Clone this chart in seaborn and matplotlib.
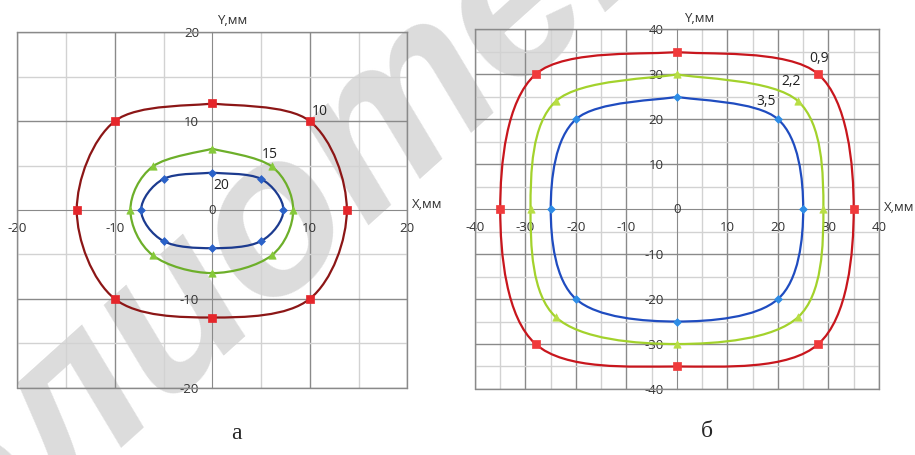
import numpy as np
import pandas as pd
import matplotlib
matplotlib.use("Agg")
import matplotlib.pyplot as plt
from matplotlib.path import Path
from matplotlib.patches import PathPatch
import seaborn as sns

# ---- data, each loop starts and ends at the top point
# panel a
a_red_x = [0, 10, 13.8, 10, 0, -10, -13.9, -10, 0]
a_red_y = [12, 10, 0, -10, -12.1, -10, 0, 10, 12]
a_green_x = [0, 6.1, 8.3, 6.1, 0, -6.1, -8.4, -6.1, 0]
a_green_y = [6.9, 4.9, 0, -5.1, -7.1, -5.1, 0, 4.9, 6.9]
a_blue_x = [0, 5, 7.3, 5, 0, -5, -7.3, -5, 0]
a_blue_y = [4.2, 3.5, 0, -3.5, -4.3, -3.5, 0, 3.5, 4.2]
a_labels = ["10", "15", "20"]

# panel b
b_red_x = [0, 28, 35, 28, 0, -28, -35, -28, 0]
b_red_y = [35, 30, 0, -30, -35, -30, 0, 30, 35]
b_green_x = [0, 24, 29, 24, 0, -24, -29, -24, 0]
b_green_y = [30, 24, 0, -24, -30, -24, 0, 24, 30]
b_blue_x = [0, 20, 25, 20, 0, -20, -25, -20, 0]
b_blue_y = [25, 20, 0, -20, -25, -20, 0, 20, 25]
b_labels = ["0,9", "2,2", "3,5"]

sns.set_style("white")
plt.rcParams["font.family"] = ["Open Sans", "DejaVu Sans"]
plt.rcParams["axes.unicode_minus"] = False

TXT = "#333333"
MAJ = "#8a8a8a"
MIN = "#d2d2d2"


def smooth_path(xs, ys):
    # excel-like smoothed line: cubic bezier through the points
    pts = np.column_stack([xs, ys]).astype(float)
    ext = np.vstack([pts[0], pts, pts[-1]])
    verts = [pts[0]]
    codes = [Path.MOVETO]
    for i in range(len(pts) - 1):
        p0, p1, p2, p3 = ext[i], ext[i + 1], ext[i + 2], ext[i + 3]
        verts += [p1 + (p2 - p0) / 6, p2 - (p3 - p1) / 6, p2]
        codes += [Path.CURVE4] * 3
    return Path(verts, codes)


def draw_series(ax, xs, ys, line_c, mark_c, marker, ms):
    ax.add_patch(PathPatch(smooth_path(xs, ys), fill=False, edgecolor=line_c,
                           lw=1.6, zorder=3))
    df = pd.DataFrame({"x": xs[:-1], "y": ys[:-1]})
    sns.scatterplot(data=df, x="x", y="y", ax=ax, color=mark_c, marker=marker,
                    s=ms, edgecolor=mark_c, linewidth=0.5, zorder=4, legend=False)
    ax.set_xlabel("")
    ax.set_ylabel("")


def setup_axes(ax, lim, major, minor):
    ax.set_facecolor("none")
    ax.set_xlim(-lim, lim)
    ax.set_ylim(-lim, lim)
    ax.set_xticks(major)
    ax.set_yticks(major)
    ax.set_xticks(minor, minor=True)
    ax.set_yticks(minor, minor=True)
    ax.grid(which="major", color=MAJ, lw=1.0)
    ax.grid(which="minor", color=MIN, lw=1.0)
    for s in ["top", "right"]:
        ax.spines[s].set_color(MAJ)
        ax.spines[s].set_linewidth(1.0)
    ax.spines["left"].set_position(("data", 0))
    ax.spines["bottom"].set_position(("data", 0))
    ax.spines["left"].set_color(MAJ)
    ax.spines["bottom"].set_color(MAJ)
    ax.axhline(-lim, color=MAJ, lw=1.0, clip_on=False, zorder=1)
    ax.axvline(-lim, color=MAJ, lw=1.0, clip_on=False, zorder=1)
    ax.tick_params(axis="x", which="both", length=0, pad=8.5, labelsize=9.5,
                   labelcolor=TXT)
    ax.tick_params(axis="y", which="both", length=0, pad=9.5, labelsize=9.5,
                   labelcolor=TXT)
    ax.text(0, 0, "0", ha="center", va="center", fontsize=9.5, color=TXT, zorder=5)


fig = plt.figure(figsize=(9.15, 4.55), dpi=100)
fig.patch.set_facecolor("white")

# faint watermark behind everything
fig.text(0.25, 0.42, "библиотека", rotation=42, fontsize=160, color="#dcdcdc",
         style="italic", weight="bold", ha="center", va="center", zorder=-1,
         family=["Liberation Sans", "DejaVu Sans"])

ax1 = fig.add_axes([0.0189, 0.1479, 0.4262, 0.7811])
ax2 = fig.add_axes([0.5191, 0.1451, 0.4415, 0.7905])

# ---- panel a
setup_axes(ax1, 20, [-20, -10, 10, 20], [-15, -5, 5, 15])
draw_series(ax1, a_red_x, a_red_y, "#8c1616", "#e5262b", "s", 30)
draw_series(ax1, a_green_x, a_green_y, "#6daf2a", "#86c93a", "^", 28)
draw_series(ax1, a_blue_x, a_blue_y, "#1c3b8f", "#2b62c8", "D", 16)
for (tx, ty), lbl in zip([(11.0, 11.1), (5.9, 6.3), (0.9, 2.8)], a_labels):
    ax1.text(tx, ty, lbl, ha="center", va="center", fontsize=10, color="#222222",
             zorder=5)
ax1.text(2.0, 21.3, "Y,мм", ha="center", va="center", fontsize=9.5, color=TXT,
         clip_on=False)
ax1.text(20.5, 0.6, "X,мм", ha="left", va="center", fontsize=9.5, color=TXT,
         clip_on=False)

# ---- panel b
setup_axes(ax2, 40, [-40, -30, -20, -10, 10, 20, 30, 40],
           [-35, -25, -15, -5, 5, 15, 25, 35])
draw_series(ax2, b_red_x, b_red_y, "#c8161d", "#f03a3b", "s", 30)
draw_series(ax2, b_green_x, b_green_y, "#a3d22c", "#b8de45", "^", 28)
draw_series(ax2, b_blue_x, b_blue_y, "#1f4cc0", "#2e8de6", "D", 16)
for (tx, ty), lbl in zip([(28.1, 33.5), (22.6, 28.5), (17.7, 23.9)], b_labels):
    ax2.text(tx, ty, lbl, ha="center", va="center", fontsize=10, color="#222222",
             zorder=5)
ax2.text(4.3, 42.5, "Y,мм", ha="center", va="center", fontsize=9.5, color=TXT,
         clip_on=False)
ax2.text(41.0, 0.4, "X,мм", ha="left", va="center", fontsize=9.5, color=TXT,
         clip_on=False)

# captions
fig.text(0.258, 0.048, "а", ha="center", va="center", fontsize=17,
         family=["Liberation Serif", "DejaVu Serif"])
fig.text(0.772, 0.052, "б", ha="center", va="center", fontsize=17,
         family=["Liberation Serif", "DejaVu Serif"])

fig.savefig("out.png", dpi=100)
